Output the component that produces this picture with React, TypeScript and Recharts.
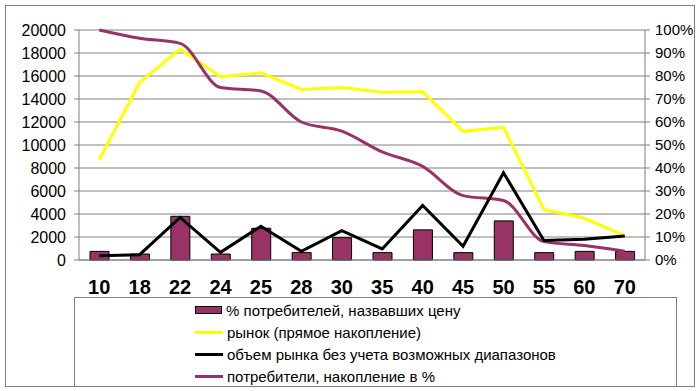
import React from 'react';
import { ComposedChart, Bar, Line, XAxis, YAxis, CartesianGrid } from 'recharts';

const categories = ['10', '18', '22', '24', '25', '28', '30', '35', '40', '45', '50', '55', '60', '70'];
const consumersNamedPct = [0.0375, 0.026, 0.19, 0.026, 0.138, 0.032, 0.097, 0.032, 0.131, 0.032, 0.17, 0.032, 0.0375, 0.0375];
const marketCumulative = [8720, 15440, 18340, 15930, 16280, 14830, 15000, 14590, 14620, 11190, 11540, 4390, 3630, 2120];
const marketVolume = [380, 460, 3700, 670, 2940, 760, 2560, 960, 4740, 1190, 7590, 1690, 1800, 2090];
const consumersCumulative = [1.0, 0.964, 0.942, 0.75, 0.735, 0.6, 0.56, 0.47, 0.407, 0.28, 0.259, 0.08, 0.063, 0.038];

const leftTicks = [0, 2000, 4000, 6000, 8000, 10000, 12000, 14000, 16000, 18000, 20000];
const rightTicks = [0, 0.1, 0.2, 0.3, 0.4, 0.5, 0.6, 0.7, 0.8, 0.9, 1.0];
const boundaryTicks = [0, 1, 2, 3, 4, 5, 6, 7, 8, 9, 10, 11, 12, 13, 14];

const legendItems = [
  { label: '% потребителей, назвавших цену', color: '#993366', kind: 'bar' },
  { label: 'рынок (прямое накопление)', color: '#FFFF00', kind: 'line' },
  { label: 'объем рынка без учета возможных диапазонов', color: '#000000', kind: 'line' },
  { label: 'потребители, накопление в %', color: '#993366', kind: 'line' },
];

const data = categories.map((c, i) => ({
  cat: c,
  pct: consumersNamedPct[i],
  market: marketCumulative[i],
  volume: marketVolume[i],
  cons: consumersCumulative[i],
}));

const FONT = "'Liberation Sans', Arial, sans-serif";

export default function App() {
  return (
    <div style={{ position: 'absolute', left: 0, top: 0, width: 700, height: 391, background: '#fff', fontFamily: FONT }}>
      <div style={{ position: 'absolute', left: 5, top: 5, width: 688, height: 380, border: '1px solid #808080' }} />
      <div style={{ position: 'absolute', left: 0, top: 0 }}>
        <ComposedChart width={700} height={391} data={data} margin={{ top: 30, right: 0, bottom: 0, left: 0 }}>
          <CartesianGrid xAxisId="cat" yAxisId="left" vertical={false} stroke="#808080" strokeWidth={1} />
          <XAxis
            xAxisId="bnd"
            type="number"
            domain={[0, 14]}
            allowDataOverflow
            ticks={boundaryTicks}
            tick={false}
            tickSize={5}
            height={6}
            stroke="#808080"
            axisLine={{ stroke: '#808080' }}
            tickLine={{ stroke: '#808080' }}
          />
          <XAxis
            xAxisId="cat"
            dataKey="cat"
            type="category"
            height={125}
            axisLine={false}
            tickLine={false}
            tickSize={0}
            tickMargin={14}
            interval={0}
            tick={{ fill: '#000', fontSize: 20, fontWeight: 'bold', fontFamily: FONT }}
          />
          <YAxis
            yAxisId="left"
            width={79}
            domain={[0, 20000]}
            ticks={leftTicks}
            interval={0}
            tickSize={5}
            tickMargin={8}
            stroke="#808080"
            tick={{ fill: '#000', fontSize: 16, fontFamily: FONT }}
          />
          <YAxis
            yAxisId="right"
            orientation="right"
            width={55}
            domain={[0, 1]}
            ticks={rightTicks}
            interval={0}
            tickSize={5}
            tickMargin={5}
            stroke="#808080"
            tickFormatter={(v: number) => `${Math.round(v * 100)}%`}
            tick={{ fill: '#000', fontSize: 15, fontFamily: FONT }}
          />
          <Bar xAxisId="cat" yAxisId="right" dataKey="pct" fill="#993366" stroke="#000" strokeWidth={1} barSize={19} isAnimationActive={false} />
          <Line xAxisId="cat" yAxisId="left" dataKey="market" type="linear" stroke="#FFFF00" strokeWidth={3} dot={false} isAnimationActive={false} />
          <Line xAxisId="cat" yAxisId="right" dataKey="cons" type="monotone" stroke="#993366" strokeWidth={3} dot={false} isAnimationActive={false} />
          <Line xAxisId="cat" yAxisId="left" dataKey="volume" type="linear" stroke="#000000" strokeWidth={3} dot={false} isAnimationActive={false} />
        </ComposedChart>
      </div>
      <div style={{ position: 'absolute', left: 74, top: 297, width: 601, height: 88, border: '1px solid #808080', background: '#fff' }}>
        {legendItems.map((it, i) => (
          <div key={i} style={{ position: 'absolute', left: 120, top: 2 + i * 22, height: 20, display: 'flex', alignItems: 'center', whiteSpace: 'nowrap' }}>
            {it.kind === 'bar' ? (
              <div style={{ width: 27, height: 8, background: it.color, border: '1px solid #000', boxSizing: 'border-box' }} />
            ) : (
              <div style={{ width: 28, height: 3, background: it.color }} />
            )}
            <span style={{ marginLeft: 4, fontSize: 15, color: '#000', fontFamily: FONT }}>{it.label}</span>
          </div>
        ))}
      </div>
    </div>
  );
}
